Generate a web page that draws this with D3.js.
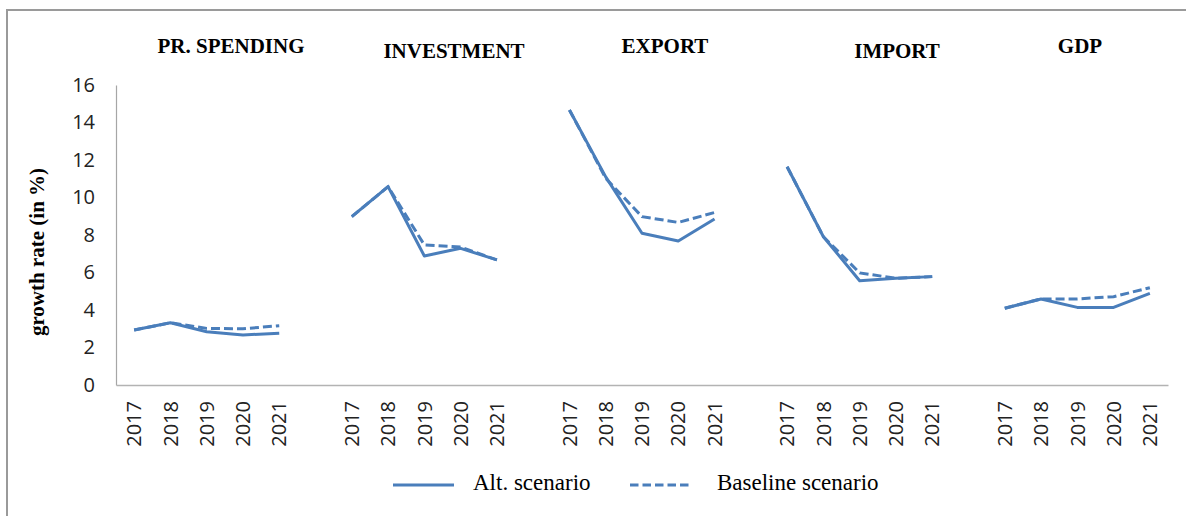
<!DOCTYPE html>
<html>
<head>
<meta charset="utf-8">
<script src="https://cdn.jsdelivr.net/npm/d3@7"></script>
<style>
  html, body { margin: 0; padding: 0; background: #fff; }
  svg { display: block; }
</style>
</head>
<body>
<svg id="chart" width="1186" height="516"></svg>
<script>
// ---- data ----
const groups = ["PR. SPENDING", "INVESTMENT", "EXPORT", "IMPORT", "GDP"];
const years = ["2017", "2018", "2019", "2020", "2021"];
const altPrSpending  = [2.93, 3.32, 2.84, 2.67, 2.76];
const basePrSpending = [2.93, 3.32, 3.02, 3.00, 3.16];
const altInvestment  = [8.98, 10.58, 6.88, 7.29, 6.67];
const baseInvestment = [8.98, 10.58, 7.47, 7.36, 6.67];
const altExport      = [14.67, 11.10, 8.09, 7.68, 8.85];
const baseExport     = [14.67, 11.02, 8.98, 8.67, 9.20];
const altImport      = [11.64, 7.91, 5.56, 5.69, 5.78];
const baseImport     = [11.64, 7.91, 5.98, 5.69, 5.78];
const altGdp         = [4.09, 4.59, 4.14, 4.14, 4.89];
const baseGdp        = [4.09, 4.59, 4.59, 4.71, 5.19];
const yTicks = [0, 2, 4, 6, 8, 10, 12, 14, 16];
const legendLabels = ["Alt. scenario", "Baseline scenario"];
const yTitle = "growth rate (in %)";

const altSeries = [altPrSpending, altInvestment, altExport, altImport, altGdp];
const baseSeries = [basePrSpending, baseInvestment, baseExport, baseImport, baseGdp];

(function () {
// ---- layout ----
const color = "#4a7ebb";
const svg = d3.select("#chart");
const pLeft = 116, pRight = 1168, pTop = 85, pBottom = 385;

// categories: 5 groups of 5 years, one empty slot between groups
const cats = [];
groups.forEach((g, gi) => {
  years.forEach((yr, yi) => cats.push({key: gi + "-" + yi, label: yr}));
  if (gi < groups.length - 1) cats.push({key: "gap" + gi, label: ""});
});
const x = d3.scaleBand().domain(cats.map(c => c.key)).range([pLeft, pRight]).padding(0);
const y = d3.scaleLinear().domain([0, 16]).range([pBottom, pTop]);

// outer frame
svg.append("rect").attr("x", 7).attr("y", 10).attr("width", 1300).attr("height", 700)
  .attr("fill", "none").attr("stroke", "#9a9a9a").attr("stroke-width", 2);

// y axis
const yAxis = svg.append("g").attr("transform", `translate(${pLeft},0)`)
  .call(d3.axisLeft(y).tickValues(yTicks).tickSize(0).tickPadding(21));
yAxis.select(".domain").attr("stroke", "#a6a6a6").attr("stroke-width", 1.2);
yAxis.selectAll("text").attr("font-family", "'Open Sans', sans-serif").attr("font-size", 20).attr("fill", "#222");

// x axis
const labelMap = new Map(cats.map(c => [c.key, c.label]));
const xAxis = svg.append("g").attr("transform", `translate(0,${pBottom})`)
  .call(d3.axisBottom(x).tickSize(0).tickFormat(k => labelMap.get(k)));
xAxis.select(".domain").attr("stroke", "#b3b3b3").attr("stroke-width", 1.5);
xAxis.selectAll("text")
  .attr("font-family", "'Open Sans', sans-serif").attr("font-size", 20).attr("fill", "#222")
  .attr("transform", "rotate(-90)")
  .attr("text-anchor", "end")
  .attr("x", -16).attr("y", 0).attr("dy", "0.36em");

// lines
const line = d3.line().x(d => x(d.k) + x.bandwidth() / 2).y(d => y(d.v));
function pts(vals, gi) { return vals.map((v, yi) => ({k: gi + "-" + yi, v})); }
altSeries.forEach((vals, gi) => {
  svg.append("path").attr("d", line(pts(vals, gi))).attr("fill", "none")
    .attr("stroke", color).attr("stroke-width", 3).attr("stroke-linejoin", "round");
});
baseSeries.forEach((vals, gi) => {
  svg.append("path").attr("d", line(pts(vals, gi))).attr("fill", "none")
    .attr("stroke", color).attr("stroke-width", 3).attr("stroke-dasharray", "9,4");
});

// group titles
const titlePos = [[231, 53], [454, 58], [665, 53], [897, 58], [1080, 53]];
groups.forEach((g, i) => {
  svg.append("text").attr("x", titlePos[i][0]).attr("y", titlePos[i][1])
    .attr("text-anchor", "middle").attr("font-family", "'Liberation Serif', 'Times New Roman', serif")
    .attr("font-weight", "bold").attr("font-size", 21).attr("fill", "#000").text(g);
});

// y title
svg.append("text").attr("transform", "translate(44,252) rotate(-90)")
  .attr("text-anchor", "middle").attr("font-family", "'Liberation Serif', 'Times New Roman', serif")
  .attr("font-weight", "bold").attr("font-size", 21).attr("fill", "#000").text(yTitle);

// legend
const leg = [[393, 473], [630, 717]];
legendLabels.forEach((lab, i) => {
  svg.append("line").attr("x1", leg[i][0]).attr("x2", leg[i][0] + 61).attr("y1", 485).attr("y2", 485)
    .attr("stroke", color).attr("stroke-width", 3)
    .attr("stroke-dasharray", i === 1 ? "8.5,4" : null);
  svg.append("text").attr("x", leg[i][1]).attr("y", 490)
    .attr("font-family", "'Liberation Serif', 'Times New Roman', serif")
    .attr("font-size", 23).attr("fill", "#000").text(lab);
});
})();
</script>
</body>
</html>
